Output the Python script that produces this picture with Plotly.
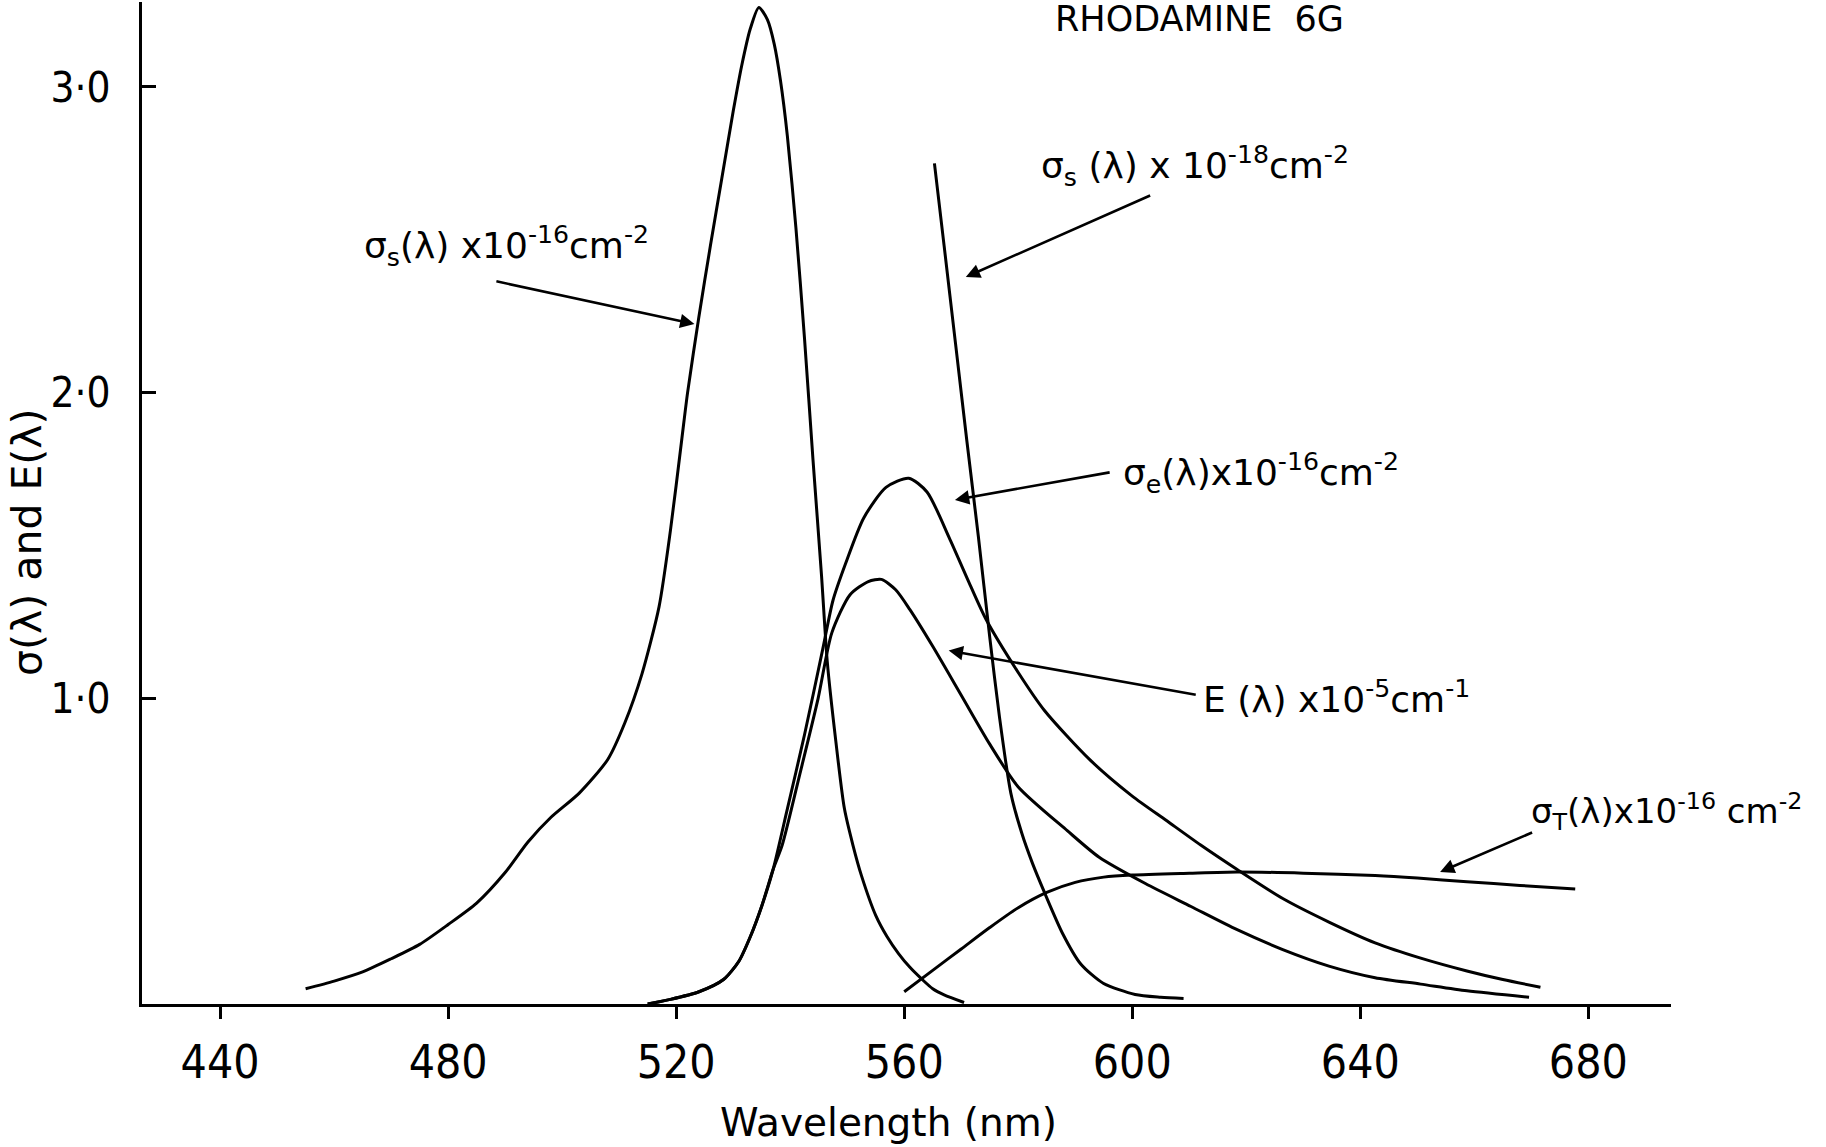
import plotly.graph_objects as go

# ---- data ----
# sigma_s(lambda) x1e-16 cm^-2  (absorption)
abs_wl = [455, 460, 465, 470, 475, 480, 485, 490, 494, 498, 503, 508, 511, 514, 517, 519, 521, 522, 524, 526,
          528, 530, 531.5, 533, 534.5, 536, 537.2, 538.3, 539.5, 541, 542.5, 544, 545.5, 546.5, 548, 549.5, 551,
          552.5, 555, 557, 559, 561, 563, 565, 567, 570.5]
abs_val = [0.05, 0.075, 0.105, 0.148, 0.195, 0.26, 0.33, 0.43, 0.53, 0.61, 0.69, 0.80, 0.92, 1.08, 1.30, 1.55,
           1.85, 2.0, 2.25, 2.48, 2.70, 2.92, 3.07, 3.19, 3.26, 3.22, 3.14, 3.02, 2.84, 2.54, 2.18, 1.78, 1.40,
           1.12, 0.86, 0.64, 0.52, 0.42, 0.29, 0.22, 0.165, 0.12, 0.083, 0.05, 0.03, 0.005]

# sigma_s(lambda) x1e-18 cm^-2  (steep red wing)
wing_wl = [565.3, 567, 569, 571, 573, 575, 576.7, 578.7, 580.6, 582.5, 584.6, 587.8, 591, 594.9, 600.5, 605, 609]
wing_val = [2.75, 2.48, 2.16, 1.84, 1.53, 1.20, 0.94, 0.69, 0.56, 0.46, 0.365, 0.23, 0.13, 0.068, 0.031, 0.022, 0.018]

# sigma_e(lambda) x1e-16 cm^-2  (emission)
em_wl = [515, 519, 524, 528.3, 531, 533, 535, 537, 539.4, 542.5, 545.7, 547.5, 549.7, 552.9, 556.8, 560.8, 564,
         567.9, 571.1, 574.3, 579.8, 584.6, 592.5, 600, 606, 612, 618.4, 626.4, 634.5, 642.6, 650.6, 658.7, 665,
         671.6]
em_val = [0.0, 0.015, 0.04, 0.08, 0.14, 0.22, 0.32, 0.44, 0.63, 0.88, 1.16, 1.32, 1.44, 1.59, 1.69, 1.72, 1.675,
          1.525, 1.39, 1.26, 1.09, 0.96, 0.80, 0.68, 0.60, 0.52, 0.44, 0.345, 0.268, 0.20, 0.15, 0.108, 0.08,
          0.055]

# E(lambda) x1e-5 cm^-1
e_wl = [515, 519, 524, 528.3, 531, 533, 535, 537, 538.6, 541.7, 544.9, 547.3, 550.5, 553.7, 556, 558.5, 561,
        565, 570, 575, 580, 588.6, 594.2, 602.3, 610.3, 618.4, 626.4, 634.5, 642.6, 650.6, 658.7, 669.6]
e_val = [0.0, 0.015, 0.04, 0.08, 0.14, 0.22, 0.32, 0.44, 0.52, 0.753, 1.0, 1.214, 1.339, 1.382, 1.389, 1.355,
         1.29, 1.17, 1.01, 0.85, 0.71, 0.567, 0.48, 0.394, 0.319, 0.243, 0.178, 0.124, 0.086, 0.065, 0.043,
         0.022]

# sigma_T(lambda) x1e-16 cm^-2  (triplet)
t_wl = [560, 565, 570, 575, 580, 585, 590, 595, 600, 610, 618.4, 630, 642.6, 650, 658.7, 668, 677.7]
t_val = [0.04, 0.11, 0.18, 0.25, 0.315, 0.365, 0.398, 0.415, 0.422, 0.428, 0.432, 0.428, 0.42, 0.412, 0.40,
         0.388, 0.376]

x_ticks = [440, 480, 520, 560, 600, 640, 680]
y_ticks = [1, 2, 3]
y_tick_text = ["1·0", "2·0", "3·0"]

# ---- figure ----
W, H = 1826, 1147
L, R, T, B = 142, 155, 2, 143
PX_PER_UNIT = 305.7
X_RANGE = [426.3, 694.5]
Y_RANGE = [0, (H - B - T) / PX_PER_UNIT]

LINE = dict(color="black", width=3, shape="spline", smoothing=0.7)
fig = go.Figure()
for xs, ys in [(abs_wl, abs_val), (wing_wl, wing_val), (em_wl, em_val), (e_wl, e_val), (t_wl, t_val)]:
    fig.add_trace(go.Scatter(x=xs, y=ys, mode="lines", line=LINE, showlegend=False, hoverinfo="skip"))

labels = [
    (464.9, 2.48, 36, "σ<sub>s</sub>(λ) x10<sup>-16</sup>cm<sup>-2</sup>"),
    (583.7, 2.74, 36, "σ<sub>s</sub> (λ) x 10<sup>-18</sup>cm<sup>-2</sup>"),
    (598.1, 1.738, 36, "σ<sub>e</sub>(λ)x10<sup>-16</sup>cm<sup>-2</sup>"),
    (612.0, 1.003, 36, "E (λ) x10<sup>-5</sup>cm<sup>-1</sup>"),
    (669.6, 0.631, 34, "σ<sub>T</sub>(λ)x10<sup>-16</sup> cm<sup>-2</sup>"),
]
for lx, ly, fs, txt in labels:
    fig.add_annotation(x=lx, y=ly, xref="x", yref="y", text=txt, showarrow=False,
                       xanchor="left", yanchor="middle",
                       font=dict(family="DejaVu Sans", size=fs, color="black"))

arrows = [
    ((488.2, 2.365), (523.2, 2.224)),
    ((603.4, 2.647), (570.8, 2.378)),
    ((596.3, 1.74), (568.9, 1.649)),
    ((611.4, 1.011), (567.8, 1.156)),
    ((670.4, 0.563), (654.0, 0.432)),
]
for (tx, ty), (hx, hy) in arrows:
    fig.add_annotation(x=hx, y=hy, ax=tx, ay=ty, xref="x", yref="y", axref="x", ayref="y",
                       text="", showarrow=True, arrowhead=2, arrowsize=1.1, arrowwidth=2.6,
                       arrowcolor="black", standoff=0, startstandoff=0)

plot_h = H - T - B
def py(p):  # pixel row -> paper y
    return (H - B - p) / plot_h
def px(p):  # pixel column -> paper x
    return (p - L) / (W - L - R)

fig.add_annotation(x=611.75, y=py(19), xref="x", yref="paper", text="RHODAMINE  6G", showarrow=False,
                   xanchor="center", yanchor="middle", font=dict(family="DejaVu Sans", size=35, color="black"))
fig.add_annotation(x=px(888), y=py(1122), xref="paper", yref="paper", text="Wavelength (nm)", showarrow=False,
                   xanchor="center", yanchor="middle", font=dict(family="DejaVu Sans", size=39, color="black"))
fig.add_annotation(x=px(27), y=py(542), xref="paper", yref="paper", text="σ(λ) and E(λ)", showarrow=False,
                   textangle=-90, xanchor="center", yanchor="middle",
                   font=dict(family="DejaVu Sans", size=41, color="black"))

TICK_FONT = "Liberation Sans Narrow, DejaVu Sans Condensed, Liberation Sans, sans-serif"
fig.update_xaxes(range=X_RANGE, showgrid=False, zeroline=False, showline=True, linecolor="black", linewidth=3,
                 ticks="outside", ticklen=12, tickwidth=3, tickcolor="black", tickmode="array",
                 tickvals=x_ticks, ticktext=[str(v) for v in x_ticks], ticklabelstandoff=4,
                 tickfont=dict(family=TICK_FONT, size=46, color="black"))
fig.update_yaxes(range=Y_RANGE, showgrid=False, zeroline=False, showline=True, linecolor="black", linewidth=3,
                 ticks="inside", ticklen=14, tickwidth=3, tickcolor="black", tickmode="array",
                 tickvals=y_ticks, ticktext=y_tick_text, ticklabelstandoff=20,
                 tickfont=dict(family=TICK_FONT, size=42, color="black"))

fig.update_layout(width=W, height=H, margin=dict(l=L, r=R, t=T, b=B, autoexpand=False),
                  plot_bgcolor="white", paper_bgcolor="white")

fig.write_html("out.html")
